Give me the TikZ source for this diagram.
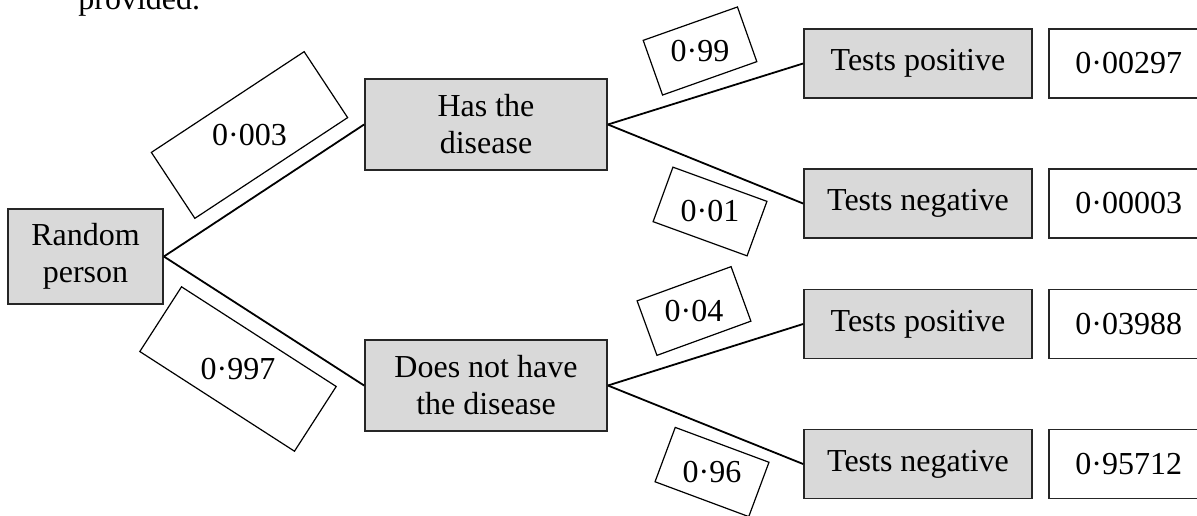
\documentclass[tikz,border=0pt]{standalone}
\usepackage{fontspec}
\setmainfont{Liberation Serif}
\usetikzlibrary{positioning}

\begin{document}
\begin{tikzpicture}[
  x=0.5pt, y=-0.5pt,
  font=\fontsize{16}{18.5}\selectfont,
  node distance = 7.5pt,
  event/.style  = {draw=black!85, line width=0.9pt, fill=black!15,
                   align=center, inner sep=0pt},
  result/.style = {draw=black!85, line width=0.9pt, minimum width=80pt,
                   minimum height=34.5pt, inner sep=0pt},
  prob/.style   = {draw, line width=0.6pt, inner sep=0pt},
  branch/.style = {line width=0.9pt}
]
\useasboundingbox (0,0) rectangle (1197,515);
\clip (0,0) rectangle (1197,515);
% text cut off above
\node[anchor=base west, inner sep=0pt] (txt) at (78,9) {provided.};
% events
\node[event, minimum width=77.5pt, minimum height=47.5pt] (RP) at (85.5,256.5) {Random\\person};
\node[event, minimum width=121pt, minimum height=45.5pt] (HD) at (486,124.5) {Has the\\disease};
\node[event, minimum width=121pt, minimum height=45.5pt] (ND) at (486,385.5) {Does not have\\the disease};
\node[event, minimum width=114pt, minimum height=34.5pt] (T1) at (918,63.5) {Tests positive};
\node[event, minimum width=114pt, minimum height=34.5pt] (T2) at (918,203.5) {Tests negative};
\node[event, minimum width=114pt, minimum height=34.5pt] (T3) at (918,324) {Tests positive};
\node[event, minimum width=114pt, minimum height=34.5pt] (T4) at (918,464) {Tests negative};
% results
\node[result, right=of T1] (V1) {0·00297};
\node[result, right=of T2] (V2) {0·00003};
\node[result, right=of T3] (V3) {0·03988};
\node[result, right=of T4] (V4) {0·95712};
% branches
\draw[branch] (RP.east) -- (HD.west);
\draw[branch] (RP.east) -- (ND.west);
\draw[branch] (HD.east) -- (T1.west);
\draw[branch] (HD.east) -- (T2.west);
\draw[branch] (ND.east) -- (T3.west);
\draw[branch] (ND.east) -- (T4.west);
% probabilities
\node[prob, minimum width=91.5pt, minimum height=39.5pt, rotate=33.4] (P1) at (249.5,135) {\rotatebox{-33.4}{0·003}};
\node[prob, minimum width=92pt, minimum height=38.5pt, rotate=-32.8] (P2) at (238,369) {\rotatebox{32.8}{0·997}};
\node[prob, minimum width=50pt, minimum height=29pt, rotate=19.5] (P3) at (700,51) {\rotatebox{-19.5}{0·99}};
\node[prob, minimum width=50pt, minimum height=29pt, rotate=-20] (P4) at (710,211.5) {\rotatebox{20}{0·01}};
\node[prob, minimum width=50pt, minimum height=29pt, rotate=20] (P5) at (694,311) {\rotatebox{-20}{0·04}};
\node[prob, minimum width=50pt, minimum height=29pt, rotate=-20.4] (P6) at (712,472) {\rotatebox{20.4}{0·96}};
\end{tikzpicture}
\end{document}
